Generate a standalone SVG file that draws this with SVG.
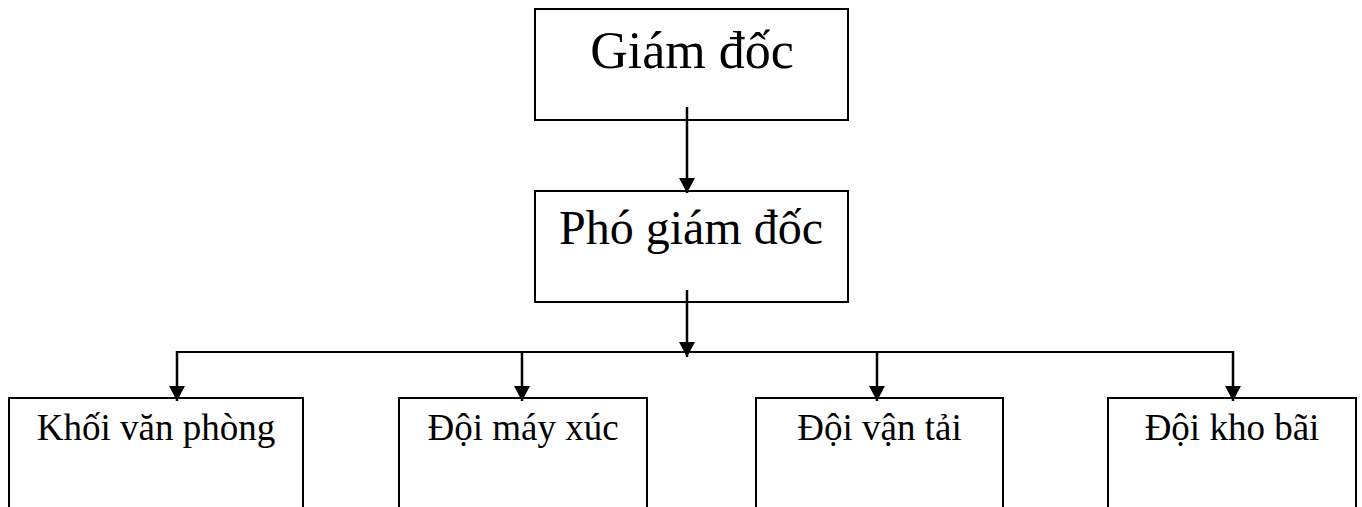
<svg xmlns="http://www.w3.org/2000/svg" width="1362" height="507" viewBox="0 0 1362 507">
  <style>
    .box { fill: #ffffff; stroke: #000000; stroke-width: 2; }
    .lbl { font-family: "Liberation Serif", "Times New Roman", serif; fill: #000000; text-anchor: middle; }
    .wire { fill: none; stroke: #000000; stroke-width: 2; }
    .arrow { fill: none; stroke: #000000; stroke-width: 2.5; marker-end: url(#head); }
  </style>
  <defs>
    <marker id="head" markerUnits="userSpaceOnUse" markerWidth="18" markerHeight="18" refX="15" refY="8.5" orient="auto">
      <path d="M0,0.5 L15,8.5 L0,16.5 z" fill="#000000"/>
    </marker>
  </defs>
  <rect width="1362" height="507" fill="#ffffff"/>

  <g id="node-giam-doc">
    <rect class="box" x="535" y="9" width="313" height="111"/>
    <text class="lbl" x="692" y="68" font-size="52">Giám đốc</text>
  </g>

  <g id="node-pho-giam-doc">
    <rect class="box" x="535" y="191" width="313" height="111"/>
    <text class="lbl" x="691" y="244" font-size="48">Phó giám đốc</text>
  </g>

  <g id="node-khoi-van-phong">
    <rect class="box" x="9" y="398" width="294" height="130"/>
    <text class="lbl" x="156" y="440" font-size="37">Khối văn phòng</text>
  </g>

  <g id="node-doi-may-xuc">
    <rect class="box" x="399" y="398" width="248" height="130"/>
    <text class="lbl" x="523" y="440" font-size="37">Đội máy xúc</text>
  </g>

  <g id="node-doi-van-tai">
    <rect class="box" x="756" y="398" width="247" height="130"/>
    <text class="lbl" x="879.5" y="440" font-size="37">Đội vận tải</text>
  </g>

  <g id="node-doi-kho-bai">
    <rect class="box" x="1108" y="398" width="248" height="130"/>
    <text class="lbl" x="1232" y="440" font-size="37">Đội kho bãi</text>
  </g>

  <g id="connectors">
    <line class="arrow" x1="687" y1="107" x2="687" y2="193"/>
    <line class="arrow" x1="687" y1="290" x2="687" y2="357"/>
    <line class="wire" x1="177" y1="352" x2="1233" y2="352"/>
    <line class="arrow" x1="177" y1="351" x2="177" y2="401"/>
    <line class="arrow" x1="522" y1="351" x2="522" y2="401"/>
    <line class="arrow" x1="877" y1="351" x2="877" y2="401"/>
    <line class="arrow" x1="1233" y1="351" x2="1233" y2="401"/>
  </g>
</svg>
